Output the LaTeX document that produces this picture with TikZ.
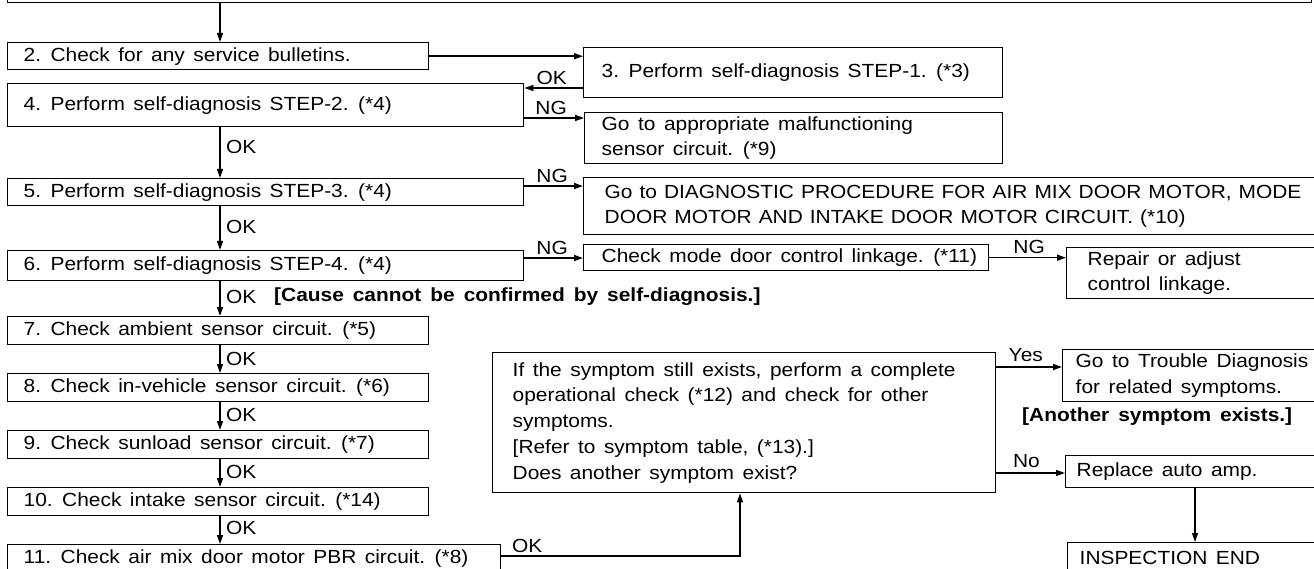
\documentclass[tikz,border=0pt]{standalone}
\usepackage{fontspec}
\setmainfont{Liberation Sans}[FakeStretch=1.1]
\usetikzlibrary{arrows.meta}
\begin{document}
\begin{tikzpicture}[x=1pt,y=-1pt,
  txt/.style={font=\fontsize{19}{25.7}\selectfont, execute at begin node={\spaceskip=8.5pt plus 2pt minus 1pt\relax}},
  box/.style={txt, draw, line width=1.4pt, anchor=north west, align=left, inner ysep=0pt},
  lbl/.style={txt, inner sep=0pt},
  blbl/.style={inner sep=0pt, font=\fontsize{19}{25.7}\selectfont\bfseries, execute at begin node={\spaceskip=9pt plus 2pt minus 1pt\relax}},
  arr/.style={line width=1.4pt, -{Triangle[length=9pt,width=6pt]}}]
\useasboundingbox (0,0) rectangle (1314,569);
\clip (0,0) rectangle (1314,569);
% boxes
\node[box, text width=1304pt, inner xsep=0pt, minimum height=60pt, anchor=south west] (top) at (7,3) {};
\node[box, text width=389pt, inner xsep=16pt, minimum height=27pt] (b2) at (7,42) {2. Check for any service bulletins.};
\node[box, text width=383pt, inner xsep=18pt, minimum height=50pt] (b3) at (583,47) {\mbox{3. Perform self-diagnosis STEP-1. (*3)}};
\node[box, text width=484pt, inner xsep=16pt, minimum height=43pt] (b4) at (7,83) {4. Perform self-diagnosis STEP-2. (*4)};
\node[box, text width=384pt, inner xsep=17pt, minimum height=51pt] (bga) at (584,112) {\mbox{Go to appropriate malfunctioning}\\\mbox{sensor circuit. (*9)}};
\node[box, text width=484pt, inner xsep=16pt, minimum height=27pt] (b5) at (7,178) {5. Perform self-diagnosis STEP-3. (*4)};
\node[box, text width=705pt, inner xsep=21pt, minimum height=57pt, execute at begin node={\spaceskip=7pt plus 1pt minus 1pt\relax}] (bdiag) at (583,177) {\mbox{Go to DIAGNOSTIC PROCEDURE FOR AIR MIX DOOR MOTOR, MODE}\\\mbox{DOOR MOTOR AND INTAKE DOOR MOTOR CIRCUIT. (*10)}};
\node[box, text width=484pt, inner xsep=16pt, minimum height=30pt] (b6) at (7,250) {6. Perform self-diagnosis STEP-4. (*4)};
\node[box, text width=369pt, inner xsep=18pt, minimum height=26pt] (bmode) at (583,244) {\mbox{Check mode door control linkage. (*11)}};
\node[box, text width=222pt, inner xsep=21pt, minimum height=51pt] (brep) at (1066,247) {\mbox{Repair or adjust}\\\mbox{control linkage.}};
\node[box, text width=389pt, inner xsep=16pt, minimum height=28pt] (b7) at (7,316) {\mbox{7. Check ambient sensor circuit. (*5)}};
\node[box, text width=389pt, inner xsep=16pt, minimum height=28pt] (b8) at (7,373) {\mbox{8. Check in-vehicle sensor circuit. (*6)}};
\node[box, text width=389pt, inner xsep=16pt, minimum height=28pt] (b9) at (7,430) {\mbox{9. Check sunload sensor circuit. (*7)}};
\node[box, text width=389pt, inner xsep=16pt, minimum height=28pt] (b10) at (7,487) {\mbox{10. Check intake sensor circuit. (*14)}};
\node[box, text width=461pt, inner xsep=16pt, minimum height=28pt] (b11) at (7,544) {\mbox{11. Check air mix door motor PBR circuit. (*8)}};
\node[box, text width=463pt, inner xsep=20pt, minimum height=140pt] (big) at (492,352) {\mbox{If the symptom still exists, perform a complete}\\\mbox{operational check (*12) and check for other}\\symptoms.\\\mbox{[Refer to symptom table, (*13).]}\\\mbox{Does another symptom exist?}};
\node[box, text width=242pt, inner xsep=13pt, minimum height=52pt] (btr) at (1062,349) {\mbox{Go to Trouble Diagnosis}\\\mbox{for related symptoms.}};
\node[box, text width=243pt, inner xsep=11pt, minimum height=32pt] (brepl) at (1065,455) {Replace auto amp.};
\node[box, text width=239pt, inner xsep=12pt, minimum height=30pt] (bend) at (1067,542) {INSPECTION END};
% helper coordinates
\coordinate (xA) at (220,0);
\coordinate (yOK1) at (0,88);
\coordinate (yNG1) at (0,118);
\coordinate (yNG2) at (0,186);
\coordinate (yNG3) at (0,258);
\coordinate (yYes) at (0,367);
\coordinate (yNo) at (0,473);
\coordinate (cB) at (740,556);
\coordinate (xC) at (1195,0);
% connectors
\draw[arr] (top.south -| xA) -- (b2.north -| xA);
\draw[arr] (b2.east) -- (b2.east -| b3.west);
\draw[arr] (b3.west |- yOK1) -- (b4.east |- yOK1);
\draw[arr] (b4.east |- yNG1) -- (bga.west |- yNG1);
\draw[arr] (b4.south -| xA) -- (b5.north -| xA);
\draw[arr] (b5.east |- yNG2) -- (bdiag.west |- yNG2);
\draw[arr] (b5.south -| xA) -- (b6.north -| xA);
\draw[arr] (b6.east |- yNG3) -- (bmode.west |- yNG3);
\draw[arr] (bmode.east) -- (bmode.east -| brep.west);
\draw[arr] (b6.south -| xA) -- (b7.north -| xA);
\draw[arr] (b7.south -| xA) -- (b8.north -| xA);
\draw[arr] (b8.south -| xA) -- (b9.north -| xA);
\draw[arr] (b9.south -| xA) -- (b10.north -| xA);
\draw[arr] (b10.south -| xA) -- (b11.north -| xA);
\draw[arr] (b11.east |- cB) -- (cB) -- (big.south -| cB);
\draw[arr] (big.east |- yYes) -- (btr.west |- yYes);
\draw[arr] (big.east |- yNo) -- (brepl.west |- yNo);
\draw[arr] (brepl.south -| xC) -- (bend.north -| xC);
% labels
\node[lbl, anchor=base east] (lok1) at (567,85) {OK};
\node[lbl, anchor=base east] (lng1) at (567,115) {NG};
\node[lbl, anchor=base east] (lng2) at (568,183) {NG};
\node[lbl, anchor=base east] (lng3) at (568,255) {NG};
\node[lbl, anchor=base east] (lng4) at (1045,254) {NG};
\node[lbl, anchor=base east] (lyes) at (1043,361) {Yes};
\node[lbl, anchor=base east] (lno) at (1040,467) {No};
\node[lbl, anchor=base west] (lok9) at (512,552) {OK};
\node[lbl, anchor=west] (lok2) at (226,147) {OK};
\node[lbl, anchor=west] (lok3) at (226,227) {OK};
\node[lbl, anchor=west] (lok4) at (226,297) {OK};
\node[lbl, anchor=west] (lok5) at (226,359) {OK};
\node[lbl, anchor=west] (lok6) at (226,415) {OK};
\node[lbl, anchor=west] (lok7) at (226,472) {OK};
\node[lbl, anchor=west] (lok8) at (226,528) {OK};
\node[blbl, anchor=west] (cause) at (274,297) {[Cause cannot be confirmed by self-diagnosis.]};
\node[blbl, anchor=west] (another) at (1022,417) {[Another symptom exists.]};
\end{tikzpicture}
\end{document}
